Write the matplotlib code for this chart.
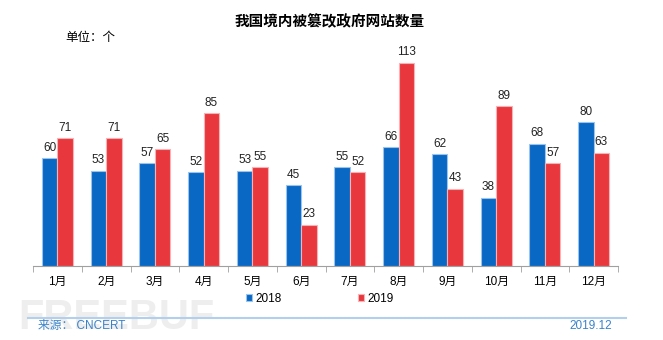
import matplotlib.pyplot as plt
import numpy as np

plt.rcParams['font.family'] = ['Liberation Sans', 'Noto Sans CJK SC', 'DejaVu Sans']

months = ['1月', '2月', '3月', '4月', '5月', '6月', '7月', '8月', '9月', '10月', '11月', '12月']
v2018 = [60, 53, 57, 52, 53, 45, 55, 66, 62, 38, 68, 80]
v2019 = [71, 71, 65, 85, 55, 23, 52, 113, 43, 89, 57, 63]

blue = '#0868c4'
red = '#e8383d'

W, H = 663, 340
fig = plt.figure(figsize=(W / 100, H / 100), dpi=100)
ax = fig.add_axes([33 / W, (H - 266) / H, 585 / W, 216 / H])

x = np.arange(len(months))
bw = 0.32
b1 = ax.bar(x - bw / 2, v2018, bw, color=blue, edgecolor='#9cc3ea', linewidth=0.8, label='2018')
b2 = ax.bar(x + bw / 2, v2019, bw, color=red, edgecolor='#f6b3b5', linewidth=0.8, label='2019')
for bars in (b1, b2):
    ax.bar_label(bars, padding=3, fontsize=8.5, color='#222222')

ax.set_xlim(-0.5, len(months) - 0.5)
ax.set_ylim(0, 120)
ax.set_yticks([])
for s in ['top', 'right', 'left']:
    ax.spines[s].set_visible(False)
ax.spines['bottom'].set_color('#a0a0a0')
ax.set_xticks(x)
ax.set_xticklabels(months, fontsize=8.5)
ax.tick_params(axis='x', length=0, pad=7)
ax.set_xticks(np.arange(-0.5, len(months)), minor=True)
ax.tick_params(axis='x', which='minor', length=4, color='#a0a0a0', direction='out')

fig.legend(loc='center', bbox_to_anchor=(320 / W, 1 - 299 / H), ncol=2, frameon=False,
           fontsize=8.5, handlelength=0.5, handleheight=0.5, columnspacing=6.5, handletextpad=0.3)

fig.text(330 / W, 1 - 22 / H, '我国境内被篡改政府网站数量', ha='center', va='center',
         fontsize=10.5, fontweight='bold')
fig.text(65 / W, 1 - 38 / H, '单位：个', ha='left', va='center', fontsize=9)

# watermark
fig.text(18 / W, 1 - 318 / H, 'FREEBUF', ha='left', va='center', fontsize=30,
         fontweight='bold', color='#eeeeee', zorder=0)

fig.add_artist(plt.Line2D([28 / W, 626 / W], [1 - 318 / H] * 2, color='#b3cfec', lw=1.5))
fig.text(38 / W, 1 - 326 / H, '来源： CNCERT', ha='left', va='center', fontsize=8.5, color='#3a82c8')
fig.text(612 / W, 1 - 326 / H, '2019.12', ha='right', va='center', fontsize=8.5, color='#3a82c8')

fig.savefig('out.png', dpi=100)
